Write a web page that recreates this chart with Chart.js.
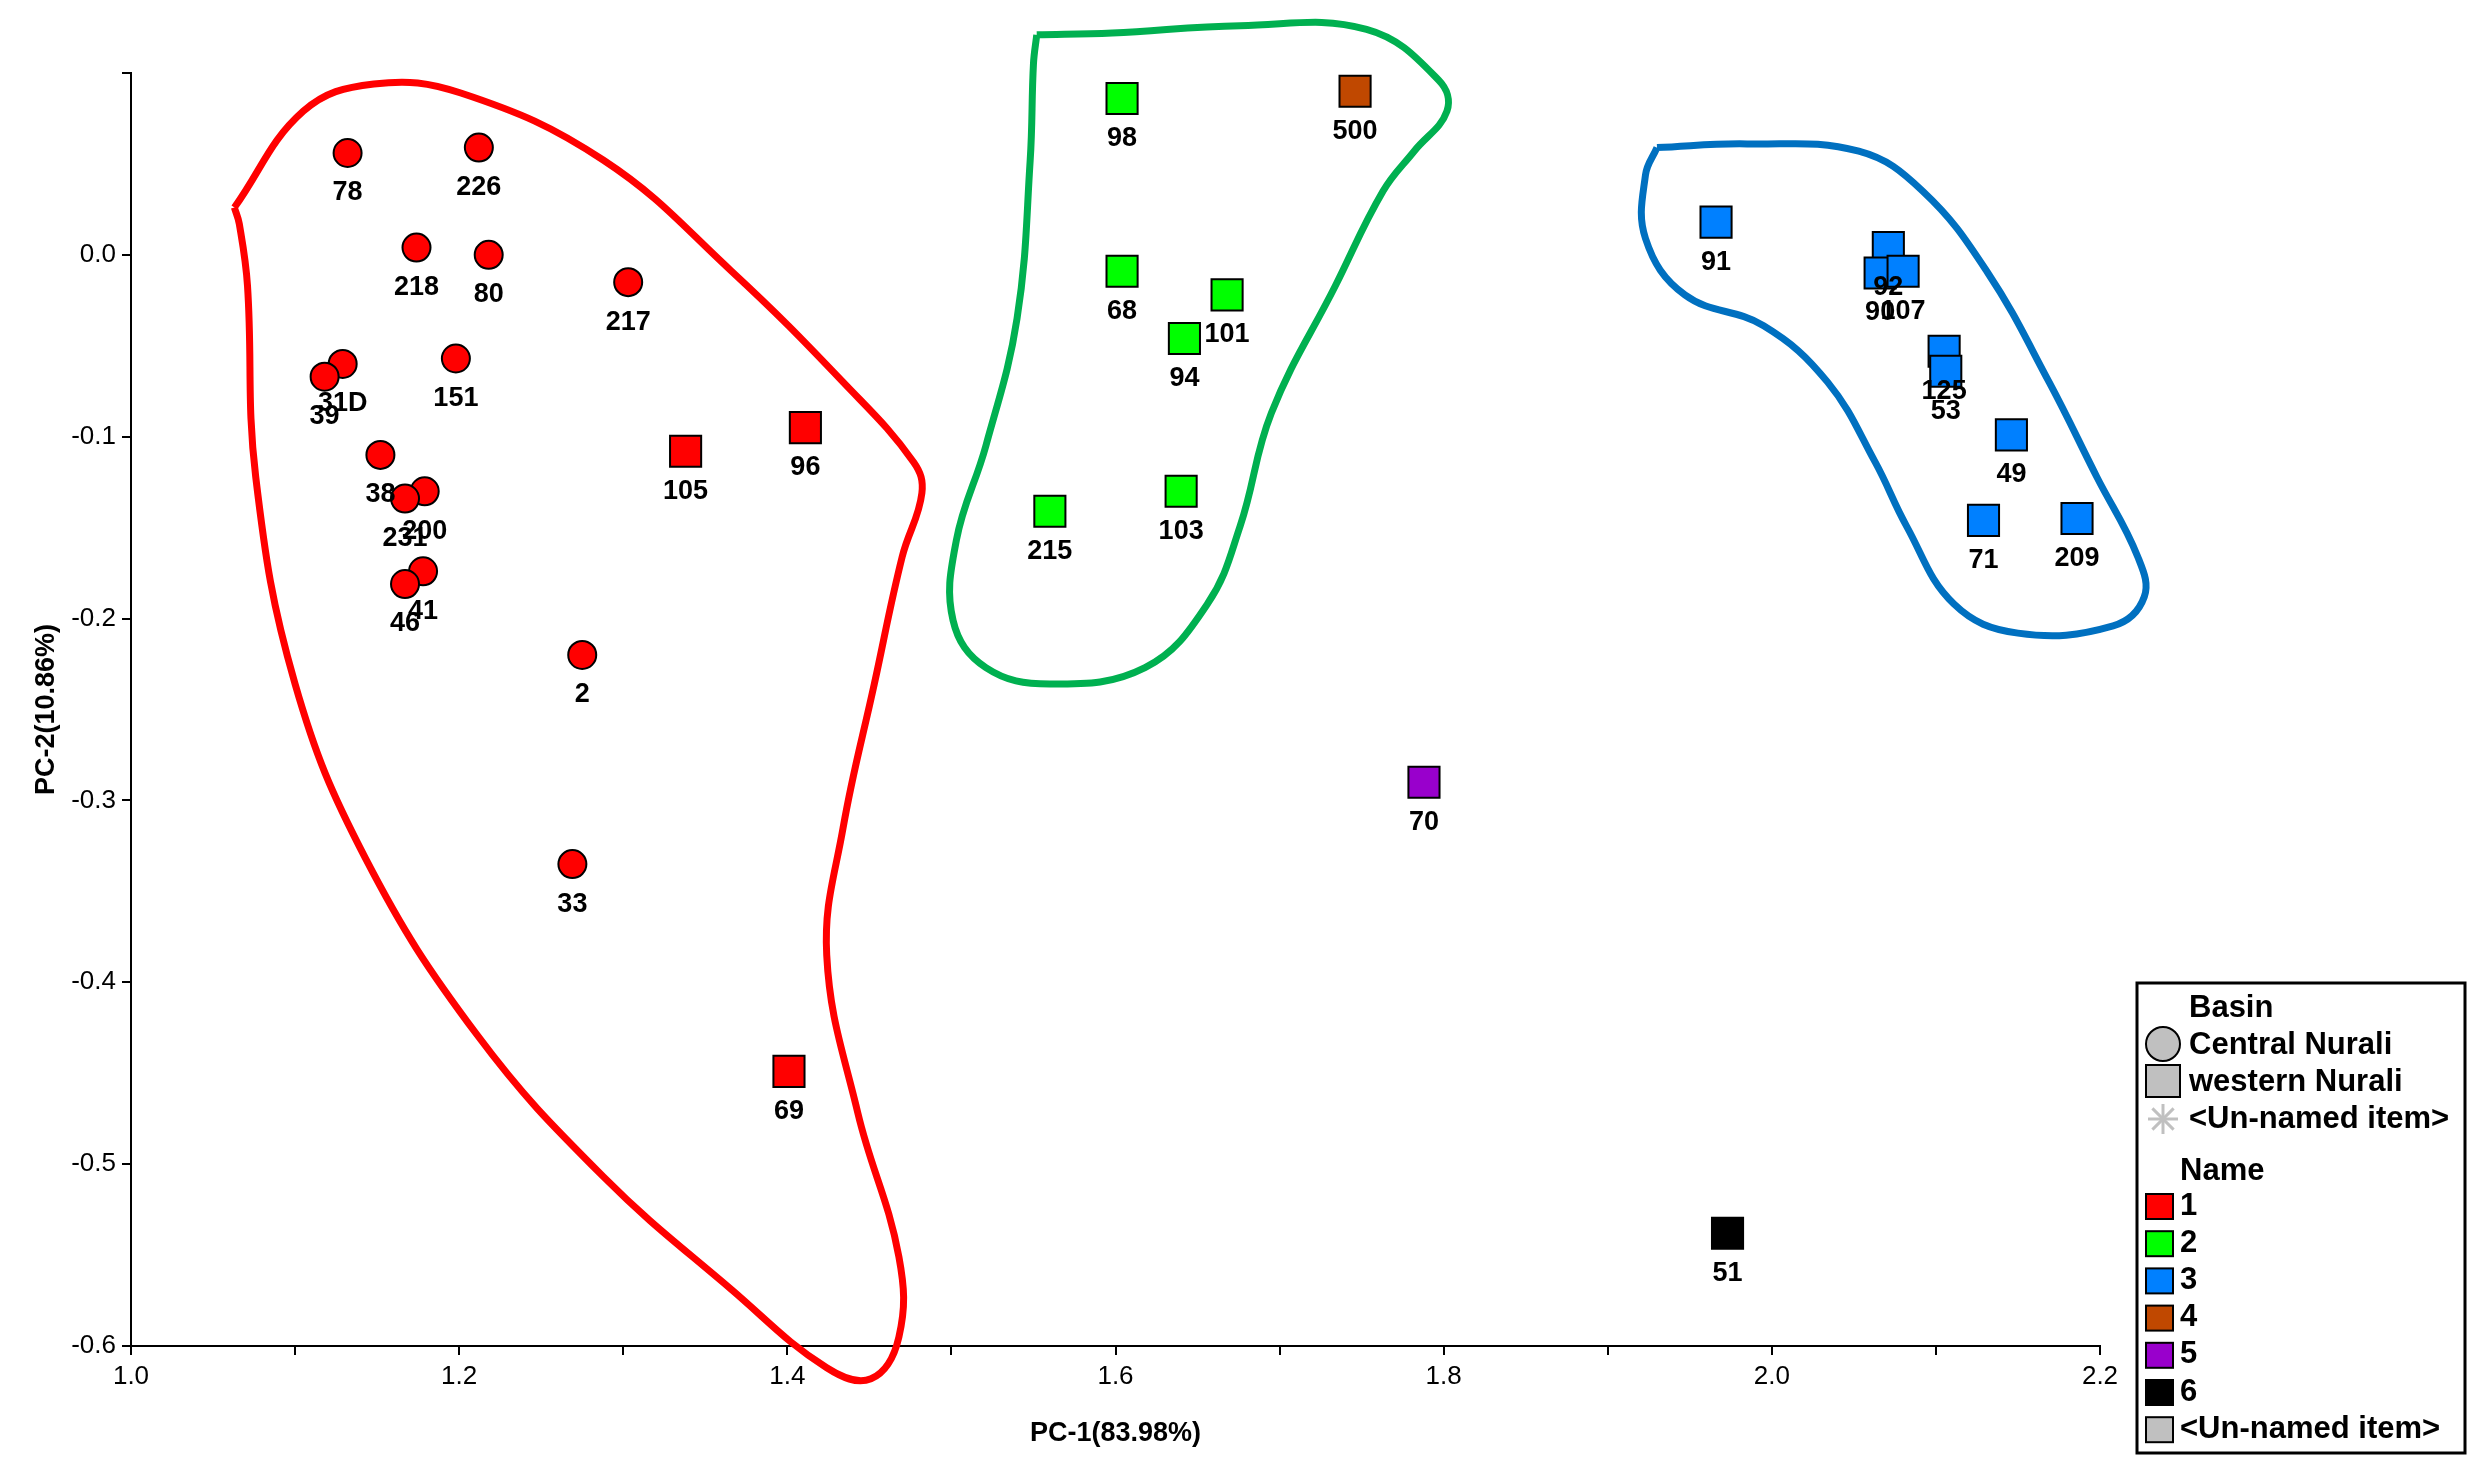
<!DOCTYPE html>
<html><head><meta charset="utf-8">
<script src="https://cdn.jsdelivr.net/npm/chart.js@4"></script>
<style>html,body{margin:0;background:#fff}#c{display:block}</style>
</head><body>
<canvas id="c" width="2490" height="1484"></canvas>
<script>
// PCA scores: sample name, PC-1, PC-2, basin (C = Central, W = western), group 1..6
const names = ["78","226","218","80","217","31D","39","151","38","200","231","41","46","2","33",
  "105","96","69","98","68","101","94","103","215","500","70","51",
  "91","92","90","107","125","53","49","71","209"];
const pc1 = [1.132,1.212,1.174,1.218,1.303,1.129,1.118,1.198,1.152,1.179,1.167,1.178,1.167,1.275,1.269,
  1.338,1.411,1.401,1.604,1.604,1.668,1.642,1.640,1.560,1.746,1.788,1.973,
  1.966,2.071,2.066,2.080,2.105,2.106,2.146,2.129,2.186];
const pc2 = [0.056,0.059,0.004,0.000,-0.015,-0.060,-0.067,-0.057,-0.110,-0.130,-0.134,-0.174,-0.181,-0.220,-0.335,
  -0.108,-0.095,-0.449,0.086,-0.009,-0.022,-0.046,-0.130,-0.141,0.090,-0.290,-0.538,
  0.018,0.004,-0.010,-0.009,-0.053,-0.064,-0.099,-0.146,-0.145];
const basin = ["C","C","C","C","C","C","C","C","C","C","C","C","C","C","C",
  "W","W","W","W","W","W","W","W","W","W","W","W",
  "W","W","W","W","W","W","W","W","W"];
const group = [1,1,1,1,1,1,1,1,1,1,1,1,1,1,1, 1,1,1,2,2,2,2,2,2,4,5,6, 3,3,3,3,3,3,3,3,3];

const groupColors = {1:"#ff0000",2:"#00ff00",3:"#0080ff",4:"#c04800",5:"#9900cc",6:"#000000"};

// hand-drawn cluster outlines (in data units)
const hullRedX = [1.063,1.105,1.148,1.201,1.288,1.366,1.434,1.477,1.482,1.470,1.453,1.434,1.424,1.443,1.468,1.468,1.451,1.424,1.366,1.288,1.211,1.143,1.100,1.076,1.071,1.066,1.063];
const hullRedY = [0.026,0.079,0.094,0.089,0.052,-0.009,-0.070,-0.114,-0.131,-0.166,-0.236,-0.315,-0.385,-0.472,-0.551,-0.595,-0.618,-0.612,-0.569,-0.507,-0.429,-0.332,-0.236,-0.122,-0.017,0.017,0.026];
const hullGreenX = [1.552,1.598,1.676,1.753,1.797,1.802,1.782,1.763,1.734,1.695,1.676,1.656,1.618,1.560,1.521,1.501,1.503,1.521,1.540,1.548,1.550,1.552];
const hullGreenY = [0.121,0.122,0.126,0.124,0.096,0.079,0.057,0.035,-0.017,-0.087,-0.149,-0.192,-0.227,-0.236,-0.227,-0.201,-0.157,-0.105,-0.035,0.052,0.105,0.121];
const hullBlueX = [1.930,1.985,2.053,2.092,2.131,2.169,2.198,2.223,2.227,2.208,2.150,2.111,2.082,2.063,2.034,1.995,1.947,1.923,1.923,1.930];
const hullBlueY = [0.059,0.061,0.057,0.035,-0.009,-0.070,-0.122,-0.166,-0.188,-0.204,-0.208,-0.192,-0.149,-0.114,-0.070,-0.039,-0.022,0.009,0.044,0.059];

const legendBasin = ["Central Nurali","western Nurali","<Un-named item>"];
const legendNames = ["1","2","3","4","5","6","<Un-named item>"];

const FONT = "'Liberation Sans', Arial, sans-serif";

function hull(xs, ys, color) {
  return {type:"line", data: xs.map((x,i)=>({x, y: ys[i]})), borderColor: color, borderWidth: 7,
    pointRadius: 0, tension: 0.4, clip: false, fill: false, order: 10, isHull: true};
}

const datasets = [hull(hullRedX,hullRedY,"#ff0000"), hull(hullGreenX,hullGreenY,"#00b050"), hull(hullBlueX,hullBlueY,"#0070c0")];
[1,2,3,4,5,6].forEach(g => ["C","W"].forEach(b => {
  const idx = names.map((_,i)=>i).filter(i => group[i]===g && basin[i]===b);
  if (!idx.length) return;
  datasets.push({type:"scatter", data: idx.map(i=>({x:pc1[i], y:pc2[i], n:names[i]})),
    backgroundColor: groupColors[g], borderColor:"#000", borderWidth: 2,
    pointStyle: b==="C" ? "circle" : "rect", pointRadius: b==="C" ? 14 : 22, order: 1});
}));

const labelPlugin = {
  id: "labels",
  afterDatasetsDraw(chart) {
    const ctx = chart.ctx;
    ctx.save();
    ctx.fillStyle = "#000";
    ctx.font = "bold 27px " + FONT;
    ctx.textAlign = "center"; ctx.textBaseline = "middle";
    chart.data.datasets.forEach((ds, di) => {
      if (ds.isHull) return;
      chart.getDatasetMeta(di).data.forEach((pt, j) => {
        ctx.fillText(ds.data[j].n, pt.x, pt.y + 40);
      });
    });
    // legend box
    const L = 2137, T = 983, R = 2465, B = 1453;
    ctx.fillStyle = "#fff"; ctx.fillRect(L, T, R-L, B-T);
    ctx.strokeStyle = "#000"; ctx.lineWidth = 3; ctx.strokeRect(L, T, R-L, B-T);
    ctx.textAlign = "left"; ctx.fillStyle = "#000";
    ctx.font = "bold 31px " + FONT;
    ctx.fillText("Basin", 2189, 1008);
    const by = [1045, 1082, 1119];
    legendBasin.forEach((t, i) => ctx.fillText(t, 2189, by[i]));
    // basin symbols
    ctx.fillStyle = "#c0c0c0"; ctx.lineWidth = 2;
    ctx.beginPath(); ctx.arc(2163, 1044, 17, 0, Math.PI*2); ctx.fill(); ctx.stroke();
    ctx.fillRect(2146, 1065, 34, 32); ctx.strokeRect(2146, 1065, 34, 32);
    ctx.strokeStyle = "#c0c0c0"; ctx.lineWidth = 3;
    for (let a = 0; a < 4; a++) {
      const ang = a*Math.PI/4;
      ctx.beginPath(); ctx.moveTo(2163 - 15*Math.cos(ang), 1119 - 15*Math.sin(ang));
      ctx.lineTo(2163 + 15*Math.cos(ang), 1119 + 15*Math.sin(ang)); ctx.stroke();
    }
    ctx.fillStyle = "#000";
    ctx.fillText("Name", 2180, 1171);
    const cols = ["#ff0000","#00ff00","#0080ff","#c04800","#9900cc","#000000","#c0c0c0"];
    legendNames.forEach((t, i) => {
      const y = 1206 + i*37.2;
      ctx.fillStyle = cols[i]; ctx.fillRect(2146, y-12, 27, 25);
      ctx.strokeStyle = "#000"; ctx.lineWidth = 2; ctx.strokeRect(2146, y-12, 27, 25);
      ctx.fillStyle = "#000"; ctx.fillText(t, 2180, y);
    });
    ctx.restore();
  }
};

new Chart(document.getElementById("c"), {
  type: "scatter",
  data: {datasets},
  plugins: [labelPlugin],
  options: {
    responsive: false, animation: false,
    layout: {padding: {left: 26, right: 390, top: 73, bottom: 30}},
    plugins: {legend: {display: false}, tooltip: {enabled: false}},
    scales: {
      x: {type: "linear", min: 1.0, max: 2.2,
        afterFit: s => { s.height = 108; },
        border: {color: "#000", width: 2},
        grid: {drawOnChartArea: false, color: "#000", tickLength: 9, lineWidth: 2},
        ticks: {stepSize: 0.1, color: "#000", font: {size: 26, family: FONT}, padding: 6, autoSkip: false, maxRotation: 0,
          callback: v => (Math.round(v*10) % 2 === 0 ? v.toFixed(1) : "")},
        title: {display: true, text: "PC-1(83.98%)", color: "#000", font: {size: 27, weight: "bold", family: FONT}, padding: {top: 4}}
      },
      y: {type: "linear", min: -0.6, max: 0.1,
        afterFit: s => { s.width = 105; },
        border: {color: "#000", width: 2},
        grid: {drawOnChartArea: false, color: "#000", tickLength: 9, lineWidth: 2},
        ticks: {stepSize: 0.1, color: "#000", font: {size: 26, family: FONT}, padding: 6,
          callback: v => (v > 0.05 ? "" : v.toFixed(1))},
        title: {display: true, text: "PC-2(10.86%)", color: "#000", font: {size: 27, weight: "bold", family: FONT}, padding: {bottom: 4}}
      }
    }
  }
});
</script>
</body></html>
